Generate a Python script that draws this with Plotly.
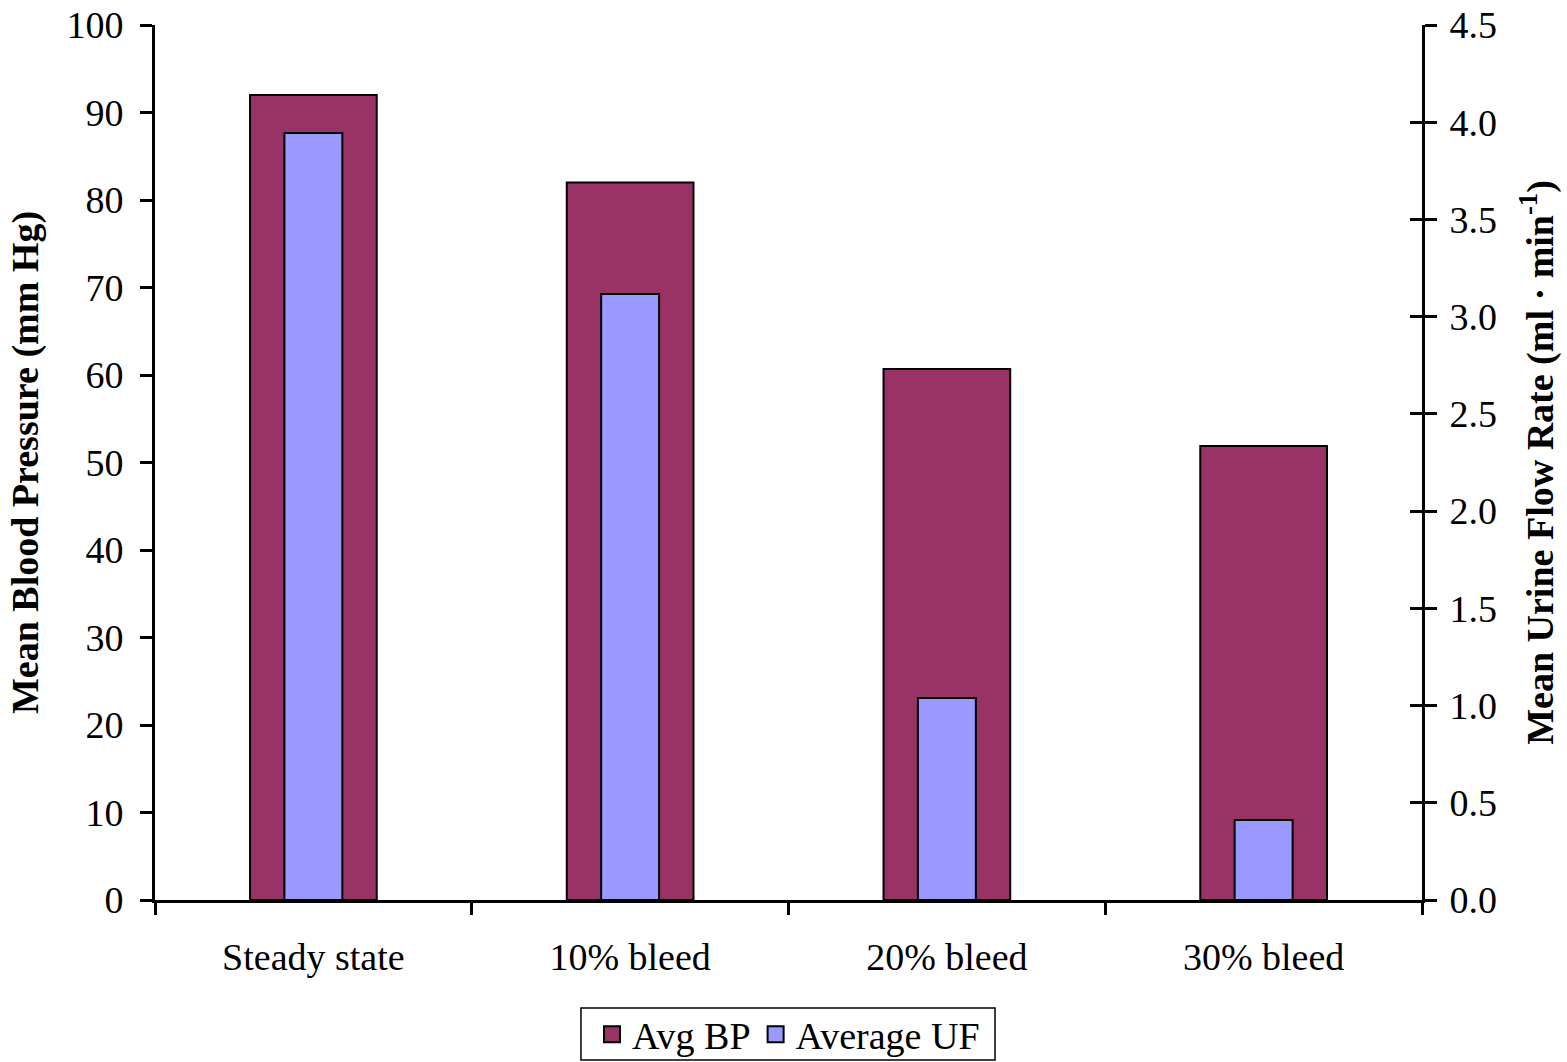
import plotly.graph_objects as go

categories = ["Steady state", "10% bleed", "20% bleed", "30% bleed"]
avg_bp = [92.0, 82.0, 60.7, 51.9]
avg_uf = [3.945, 3.117, 1.039, 0.411]
left_ticks = [0, 10, 20, 30, 40, 50, 60, 70, 80, 90, 100]
right_ticks = [0.0, 0.5, 1.0, 1.5, 2.0, 2.5, 3.0, 3.5, 4.0, 4.5]

FONT = "Liberation Serif, Times New Roman, serif"
BP_COLOR = "#993366"
UF_COLOR = "#9999FF"

fig = go.Figure()
fig.add_trace(go.Bar(
    x=categories, y=avg_bp, name="Avg BP", width=0.40, showlegend=False,
    marker=dict(color=BP_COLOR, line=dict(color="black", width=2)),
    yaxis="y", xaxis="x",
))
fig.add_trace(go.Bar(
    x=categories, y=avg_uf, name="Average UF", width=0.183, showlegend=False,
    marker=dict(color=UF_COLOR, line=dict(color="black", width=2)),
    yaxis="y2", xaxis="x",
))
# legend entries (square swatches)
for name, col in [("Avg BP", BP_COLOR), ("Average UF", UF_COLOR)]:
    fig.add_trace(go.Scatter(
        x=[None], y=[None], mode="markers", name=name,
        marker=dict(symbol="square", size=16, color=col, line=dict(color="black", width=2)),
        yaxis="y", xaxis="x", hoverinfo="skip",
    ))

fig.update_layout(
    width=1567, height=1062,
    margin=dict(l=155, r=145, t=25, b=162, autoexpand=False),
    paper_bgcolor="white", plot_bgcolor="white",
    barmode="overlay",
    font=dict(family=FONT, size=38, color="black"),
    showlegend=True,
    legend=dict(
        orientation="h", x=0.5, xanchor="center", y=-0.1177, yanchor="top",
        borderwidth=0, bgcolor="rgba(0,0,0,0)", font=dict(size=38),
        itemsizing="trace", traceorder="normal",
        tracegroupgap=0, itemwidth=30,
    ),
    shapes=[dict(type="rect", xref="paper", yref="paper",
                 x0=0.3362, x1=0.6630, y0=-0.1829, y1=-0.1234,
                 line=dict(color="black", width=1.5), layer="below")],
    xaxis=dict(
        type="category", tickson="boundaries", ticks="outside", ticklen=12,
        tickwidth=3, tickcolor="black", showline=True, linecolor="black",
        linewidth=3, showgrid=False, tickfont=dict(size=38),
        range=[-0.5, 3.5], ticklabelstandoff=21, automargin=False,
    ),
    yaxis=dict(
        range=[0, 100], tickvals=left_ticks, ticks="outside", ticklen=12,
        tickwidth=3, tickcolor="black", showline=True, linecolor="black",
        linewidth=3, showgrid=False, zeroline=False, tickfont=dict(size=38),
        ticklabelstandoff=9, automargin=False, ticklabeloverflow="allow",
        title=dict(text="<b>Mean Blood Pressure (mm Hg)</b>", font=dict(size=38), standoff=17),
    ),
    yaxis2=dict(
        range=[0, 4.5], tickvals=right_ticks, tickformat=".1f", overlaying="y",
        side="right", anchor="x", ticks="outside", ticklen=12, tickwidth=3,
        tickcolor="black", showline=True, linecolor="black", linewidth=3,
        showgrid=False, zeroline=False, tickfont=dict(size=38),
        ticklabelstandoff=5, automargin=False, ticklabeloverflow="allow",
        title=dict(text="<b>Mean Urine Flow Rate (ml · min<sup>-1</sup>)</b>", font=dict(size=38), standoff=31),
    ),
    yaxis3=dict(
        range=[0, 4.5], tickvals=right_ticks, overlaying="y", side="right",
        anchor="x", ticks="inside", ticklen=12, tickwidth=3, tickcolor="black",
        showticklabels=False, showline=False, showgrid=False, zeroline=False,
        automargin=False,
    ),
)
# invisible trace to activate yaxis3
fig.add_trace(go.Scatter(x=[categories[0]], y=[0], yaxis="y3", mode="markers",
                         marker=dict(opacity=0), showlegend=False, hoverinfo="skip"))

fig.write_html("out.html", config={"displayModeBar": False},
               post_script="document.body.style.margin='0';")
